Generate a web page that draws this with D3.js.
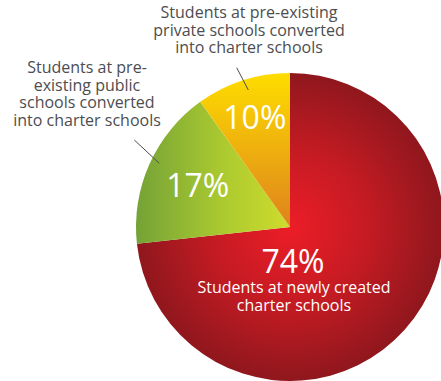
<!DOCTYPE html>
<html>
<head>
<meta charset="utf-8">
<script src="https://cdn.jsdelivr.net/npm/d3@7"></script>
<style>
  html, body { margin: 0; padding: 0; background: #fff; }
  svg { display: block; }
  text { font-family: "Open Sans", "Noto Sans", sans-serif; }
</style>
</head>
<body>
<svg id="chart" width="441" height="381"></svg>
<script>
// Share of charter-school students by school origin
const categories = ["newly", "public", "private"];
const values = [74, 17, 10];
const percentLabels = ["74%", "17%", "10%"];
const captions = [
  ["Students at newly created", "charter schools"],
  ["Students at pre-", "existing public", "schools converted", "into charter schools"],
  ["Students at pre-existing", "private schools converted", "into charter schools"]
];

const width = 441, height = 381;
const cx = 290, cy = 227, radius = 154;

const svg = d3.select("#chart");
const defs = svg.append("defs");

// gradients are in the pie group's local space (origin at the pie centre)
// red: radial glow from the centre
const gRed = defs.append("radialGradient")
  .attr("id", "grad-newly")
  .attr("gradientUnits", "userSpaceOnUse")
  .attr("cx", 0).attr("cy", 0).attr("r", radius);
gRed.append("stop").attr("offset", "0%").attr("stop-color", "#ec1d27");
gRed.append("stop").attr("offset", "50%").attr("stop-color", "#c51b23");
gRed.append("stop").attr("offset", "100%").attr("stop-color", "#8f171d");

// green: left to right
const gGreen = defs.append("linearGradient")
  .attr("id", "grad-public")
  .attr("gradientUnits", "userSpaceOnUse")
  .attr("x1", -radius).attr("y1", 0).attr("x2", 0).attr("y2", 0);
gGreen.append("stop").attr("offset", "0%").attr("stop-color", "#74a236");
gGreen.append("stop").attr("offset", "55%").attr("stop-color", "#aac930");
gGreen.append("stop").attr("offset", "100%").attr("stop-color", "#cfdc2c");

// yellow: top to bottom
const gYellow = defs.append("linearGradient")
  .attr("id", "grad-private")
  .attr("gradientUnits", "userSpaceOnUse")
  .attr("x1", 0).attr("y1", -radius).attr("x2", 0).attr("y2", 0);
gYellow.append("stop").attr("offset", "0%").attr("stop-color", "#fedd00");
gYellow.append("stop").attr("offset", "100%").attr("stop-color", "#de821c");

const pie = d3.pie().sort(null).value(d => d);
const arcs = pie(values);
const arc = d3.arc().innerRadius(0).outerRadius(radius);

const g = svg.append("g").attr("transform", `translate(${cx},${cy})`);

g.selectAll("path.slice")
  .data(arcs)
  .join("path")
  .attr("class", "slice")
  .attr("d", arc)
  .attr("fill", (d, i) => `url(#grad-${categories[i]})`);

// percentage labels
const labelRadius = [0, 101, 115];
g.selectAll("text.pct")
  .data(arcs)
  .join("text")
  .attr("class", "pct")
  .attr("text-anchor", "middle")
  .attr("fill", "#fff")
  .attr("font-size", 32)
  .attr("transform", (d, i) => {
    if (i === 0) return "translate(3,46)";
    const c = d3.arc().innerRadius(labelRadius[i]).outerRadius(labelRadius[i]).centroid(d);
    return `translate(${c[0]},${c[1] + 11})`;
  })
  .text((d, i) => percentLabels[i]);

// caption inside the red slice
const inner = g.append("text")
  .attr("text-anchor", "middle")
  .attr("fill", "#fff")
  .attr("font-size", 16);
captions[0].forEach((line, k) => {
  inner.append("tspan").attr("x", 4).attr("y", 66 + k * 17.5).text(line);
});

// outside captions with leader lines
const outside = [
  { i: 1, x: 87, y: 73.3, line: [[134.3, 140], [159.3, 163.3]] },
  { i: 2, x: 249, y: 18.3, line: [[236.7, 67.7], [248.3, 90]] }
];
outside.forEach(o => {
  const t = svg.append("text")
    .attr("text-anchor", "middle")
    .attr("fill", "#4d4d4f")
    .attr("font-size", 16);
  captions[o.i].forEach((line, k) => {
    t.append("tspan").attr("x", o.x).attr("y", o.y + k * 17.5).text(line);
  });
  svg.append("line")
    .attr("x1", o.line[0][0]).attr("y1", o.line[0][1])
    .attr("x2", o.line[1][0]).attr("y2", o.line[1][1])
    .attr("stroke", "#4d4d4f")
    .attr("stroke-width", 1);
});
</script>
</body>
</html>
